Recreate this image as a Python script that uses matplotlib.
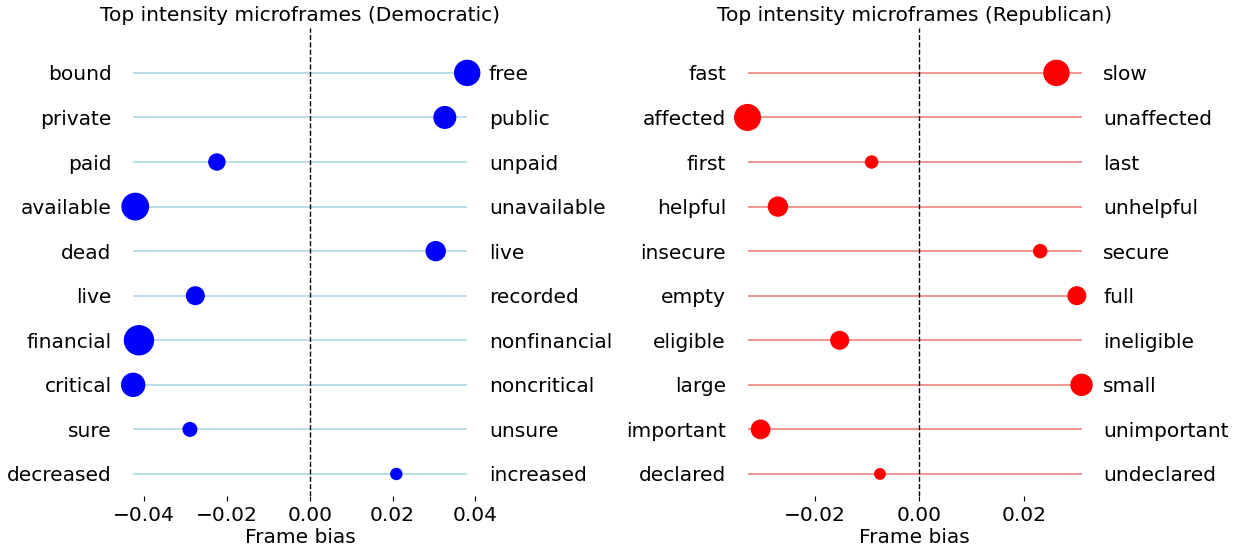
import numpy as np
import matplotlib
matplotlib.use('Agg')
import matplotlib.pyplot as plt

# Democratic microframes (top row first)
dem_left = ['bound', 'private', 'paid', 'available', 'dead', 'live',
            'financial', 'critical', 'sure', 'decreased']
dem_right = ['free', 'public', 'unpaid', 'unavailable', 'live', 'recorded',
             'nonfinancial', 'noncritical', 'unsure', 'increased']
dem_bias = [0.0380, 0.0326, -0.0224, -0.0421, 0.0304, -0.0276,
            -0.0412, -0.0426, -0.0289, 0.0209]
dem_intensity = [324, 242, 133, 361, 187, 161, 436, 274, 96, 63]

# Republican microframes (top row first)
rep_left = ['fast', 'affected', 'first', 'helpful', 'insecure', 'empty',
            'eligible', 'large', 'important', 'declared']
rep_right = ['slow', 'unaffected', 'last', 'unhelpful', 'secure', 'full',
             'ineligible', 'small', 'unimportant', 'undeclared']
rep_bias = [0.0262, -0.0328, -0.0091, -0.0270, 0.0231, 0.0301,
            -0.0152, 0.0310, -0.0303, -0.0075]
rep_intensity = [324, 340, 75, 187, 88, 161, 161, 229, 175, 56]

FS = 14.5


def draw_panel(ax, left_words, right_words, bias, intensity,
               dot_color, line_color, title):
    n = len(bias)
    y = np.arange(n)[::-1]
    bias = np.array(bias)

    ax.hlines(y, bias.min(), bias.max(), color=line_color, linewidth=1.2, zorder=1)
    ax.scatter(bias, y, s=intensity, color=dot_color, zorder=3)
    ax.axvline(0, color='k', linestyle='--', linewidth=1, zorder=2)

    ax.set_ylim(-0.5, n)
    ax.set_yticks(y)
    ax.set_yticklabels(left_words)
    ax.tick_params(axis='y', length=0, labelsize=FS)
    ax.tick_params(axis='x', labelsize=FS)
    ax.set_xlabel('Frame bias', fontsize=FS, labelpad=2.5)
    ax.set_title(title, fontsize=FS, pad=5)

    # opposite pole on the right side
    ax2 = ax.twinx()
    ax2.set_ylim(ax.get_ylim())
    ax2.set_yticks(y)
    ax2.set_yticklabels(right_words)
    ax2.tick_params(axis='y', length=0, labelsize=FS)

    for a in (ax, ax2):
        for spine in a.spines.values():
            spine.set_visible(False)


fig, axes = plt.subplots(1, 2, figsize=(12.39, 5.52), dpi=100)
plt.subplots_adjust(left=0.094, right=0.8864, top=0.9487, bottom=0.101, wspace=0.672)

draw_panel(axes[0], dem_left, dem_right, dem_bias, dem_intensity,
           'blue', 'lightblue', 'Top intensity microframes (Democratic)')
draw_panel(axes[1], rep_left, rep_right, rep_bias, rep_intensity,
           'red', 'lightcoral', 'Top intensity microframes (Republican)')

axes[1].set_xticks([-0.02, 0.0, 0.02])

plt.savefig('out.png', dpi=100)
plt.close()
